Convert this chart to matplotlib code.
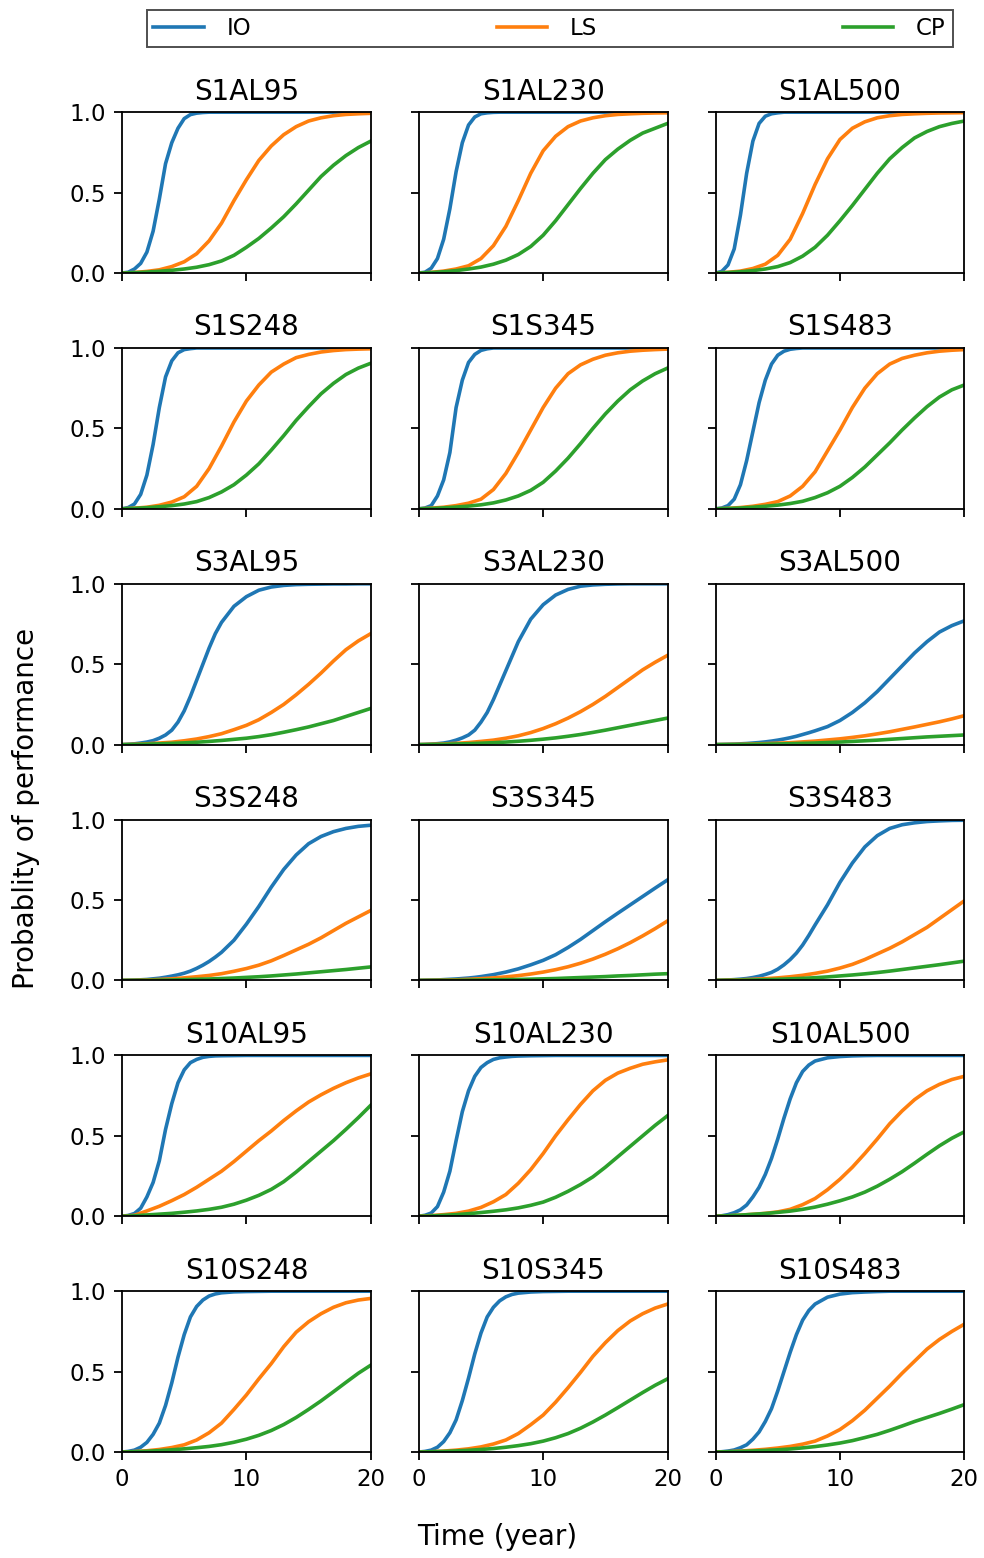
import matplotlib
matplotlib.use("Agg")
import matplotlib.pyplot as plt

# Time grids (years): IO curves sampled half-yearly up to year 8, yearly after
T_IO = [0, 0.5, 1, 1.5, 2, 2.5, 3, 3.5, 4, 4.5, 5, 5.5, 6, 6.5, 7, 7.5, 8,
        9, 10, 11, 12, 13, 14, 15, 16, 17, 18, 19, 20]
YEARS = list(range(21))

PANELS = ["S1AL95", "S1AL230", "S1AL500",
          "S1S248", "S1S345", "S1S483",
          "S3AL95", "S3AL230", "S3AL500",
          "S3S248", "S3S345", "S3S483",
          "S10AL95", "S10AL230", "S10AL500",
          "S10S248", "S10S345", "S10S483"]

SERIES_NAMES = ["IO", "LS", "CP"]
SERIES_COLORS = ["#1f77b4", "#ff7f0e", "#2ca02c"]

# Probability of performance, IO (on T_IO)
IO = [
    [0, 0.005, 0.025, 0.06, 0.13, 0.26, 0.46, 0.68, 0.81, 0.90, 0.96, 0.985, 0.994, 0.998, 1.0, 1.0, 1.0,
     1.0, 1.0, 1.0, 1.0, 1.0, 1.0, 1.0, 1.0, 1.0, 1.0, 1.0, 1.0],
    [0, 0.005, 0.03, 0.09, 0.21, 0.40, 0.63, 0.81, 0.92, 0.97, 0.99, 0.996, 0.999, 1.0, 1.0, 1.0, 1.0,
     1.0, 1.0, 1.0, 1.0, 1.0, 1.0, 1.0, 1.0, 1.0, 1.0, 1.0, 1.0],
    [0, 0.01, 0.05, 0.15, 0.36, 0.62, 0.82, 0.93, 0.975, 0.99, 0.996, 1.0, 1.0, 1.0, 1.0, 1.0, 1.0,
     1.0, 1.0, 1.0, 1.0, 1.0, 1.0, 1.0, 1.0, 1.0, 1.0, 1.0, 1.0],
    [0, 0.008, 0.03, 0.09, 0.21, 0.40, 0.63, 0.82, 0.92, 0.97, 0.99, 0.996, 1.0, 1.0, 1.0, 1.0, 1.0,
     1.0, 1.0, 1.0, 1.0, 1.0, 1.0, 1.0, 1.0, 1.0, 1.0, 1.0, 1.0],
    [0, 0.005, 0.02, 0.08, 0.18, 0.35, 0.63, 0.80, 0.91, 0.96, 0.985, 0.995, 1.0, 1.0, 1.0, 1.0, 1.0,
     1.0, 1.0, 1.0, 1.0, 1.0, 1.0, 1.0, 1.0, 1.0, 1.0, 1.0, 1.0],
    [0, 0.005, 0.02, 0.06, 0.15, 0.30, 0.48, 0.66, 0.80, 0.90, 0.955, 0.98, 0.992, 0.997, 1.0, 1.0, 1.0,
     1.0, 1.0, 1.0, 1.0, 1.0, 1.0, 1.0, 1.0, 1.0, 1.0, 1.0, 1.0],
    [0, 0.002, 0.005, 0.01, 0.016, 0.025, 0.04, 0.06, 0.09, 0.14, 0.21, 0.30, 0.40, 0.50, 0.60, 0.69, 0.76,
     0.86, 0.92, 0.96, 0.98, 0.99, 0.995, 0.997, 0.998, 0.999, 0.999, 1.0, 1.0],
    [0, 0.001, 0.003, 0.006, 0.01, 0.017, 0.028, 0.042, 0.06, 0.09, 0.14, 0.20, 0.28, 0.37, 0.46, 0.55, 0.64,
     0.78, 0.87, 0.93, 0.965, 0.985, 0.993, 0.997, 0.999, 1.0, 1.0, 1.0, 1.0],
    [0, 0.001, 0.002, 0.003, 0.005, 0.007, 0.01, 0.013, 0.017, 0.022, 0.028, 0.035, 0.043, 0.052, 0.063, 0.074, 0.086,
     0.112, 0.15, 0.20, 0.26, 0.33, 0.41, 0.49, 0.57, 0.64, 0.70, 0.74, 0.77],
    [0, 0.001, 0.002, 0.004, 0.006, 0.01, 0.014, 0.02, 0.027, 0.035, 0.045, 0.058, 0.075, 0.095, 0.118, 0.145, 0.175,
     0.25, 0.35, 0.46, 0.58, 0.69, 0.78, 0.85, 0.895, 0.925, 0.945, 0.958, 0.965],
    [0, 0.001, 0.002, 0.003, 0.005, 0.007, 0.009, 0.012, 0.015, 0.019, 0.024, 0.03, 0.036, 0.044, 0.052, 0.062, 0.072,
     0.097, 0.125, 0.16, 0.205, 0.255, 0.31, 0.365, 0.418, 0.47, 0.522, 0.574, 0.625],
    [0, 0.001, 0.003, 0.005, 0.008, 0.012, 0.018, 0.026, 0.037, 0.05, 0.07, 0.097, 0.13, 0.17, 0.22, 0.28, 0.345,
     0.47, 0.61, 0.73, 0.83, 0.90, 0.945, 0.968, 0.98, 0.988, 0.992, 0.995, 0.996],
    [0, 0.005, 0.017, 0.05, 0.12, 0.21, 0.345, 0.54, 0.70, 0.83, 0.91, 0.955, 0.975, 0.988, 0.994, 0.997, 0.998,
     0.999, 1.0, 1.0, 1.0, 1.0, 1.0, 1.0, 1.0, 1.0, 1.0, 1.0, 1.0],
    [0, 0.006, 0.02, 0.06, 0.15, 0.28, 0.47, 0.65, 0.78, 0.87, 0.925, 0.955, 0.975, 0.985, 0.99, 0.994, 0.996,
     0.998, 0.999, 1.0, 1.0, 1.0, 1.0, 1.0, 1.0, 1.0, 1.0, 1.0, 1.0],
    [0, 0.003, 0.01, 0.022, 0.04, 0.07, 0.12, 0.18, 0.26, 0.36, 0.48, 0.61, 0.73, 0.83, 0.90, 0.94, 0.965,
     0.985, 0.993, 0.997, 0.999, 1.0, 1.0, 1.0, 1.0, 1.0, 1.0, 1.0, 1.0],
    [0, 0.004, 0.012, 0.03, 0.06, 0.11, 0.18, 0.29, 0.43, 0.59, 0.73, 0.84, 0.905, 0.945, 0.97, 0.983, 0.99,
     0.996, 0.998, 0.999, 1.0, 1.0, 1.0, 1.0, 1.0, 1.0, 1.0, 1.0, 1.0],
    [0, 0.004, 0.012, 0.03, 0.065, 0.12, 0.20, 0.32, 0.46, 0.61, 0.74, 0.84, 0.90, 0.94, 0.965, 0.98, 0.988,
     0.995, 0.998, 0.999, 1.0, 1.0, 1.0, 1.0, 1.0, 1.0, 1.0, 1.0, 1.0],
    [0, 0.002, 0.006, 0.013, 0.027, 0.045, 0.08, 0.125, 0.19, 0.27, 0.38, 0.50, 0.62, 0.73, 0.82, 0.88, 0.92,
     0.963, 0.982, 0.991, 0.995, 0.998, 1.0, 1.0, 1.0, 1.0, 1.0, 1.0, 1.0],
]

# Probability of performance, LS (yearly)
LS = [
    [0, 0.003, 0.01, 0.02, 0.04, 0.07, 0.12, 0.20, 0.31, 0.45, 0.58, 0.70, 0.79, 0.86, 0.91, 0.945, 0.965, 0.978, 0.986, 0.99, 0.993],
    [0, 0.004, 0.012, 0.025, 0.045, 0.09, 0.17, 0.29, 0.45, 0.62, 0.76, 0.85, 0.91, 0.945, 0.965, 0.978, 0.986, 0.99, 0.993, 0.995, 0.996],
    [0, 0.004, 0.012, 0.028, 0.055, 0.11, 0.21, 0.37, 0.55, 0.71, 0.83, 0.90, 0.94, 0.965, 0.978, 0.986, 0.99, 0.993, 0.995, 0.996, 0.997],
    [0, 0.004, 0.01, 0.022, 0.042, 0.075, 0.14, 0.25, 0.39, 0.54, 0.67, 0.77, 0.85, 0.90, 0.94, 0.96, 0.975, 0.984, 0.99, 0.993, 0.995],
    [0, 0.004, 0.01, 0.02, 0.035, 0.06, 0.12, 0.22, 0.35, 0.49, 0.63, 0.75, 0.84, 0.895, 0.93, 0.955, 0.97, 0.98, 0.986, 0.99, 0.993],
    [0, 0.003, 0.008, 0.016, 0.028, 0.045, 0.08, 0.14, 0.23, 0.36, 0.49, 0.63, 0.75, 0.84, 0.90, 0.935, 0.955, 0.97, 0.98, 0.986, 0.99],
    [0, 0.002, 0.005, 0.01, 0.015, 0.024, 0.035, 0.05, 0.068, 0.093, 0.12, 0.155, 0.20, 0.25, 0.31, 0.375, 0.445, 0.52, 0.59, 0.645, 0.69],
    [0, 0.002, 0.004, 0.008, 0.013, 0.02, 0.028, 0.04, 0.055, 0.075, 0.10, 0.13, 0.165, 0.205, 0.25, 0.30, 0.355, 0.41, 0.465, 0.512, 0.555],
    [0, 0.001, 0.002, 0.004, 0.006, 0.009, 0.012, 0.017, 0.022, 0.029, 0.036, 0.045, 0.055, 0.067, 0.08, 0.095, 0.11, 0.126, 0.142, 0.16, 0.18],
    [0, 0.001, 0.003, 0.006, 0.01, 0.016, 0.023, 0.031, 0.042, 0.057, 0.074, 0.095, 0.122, 0.155, 0.19, 0.225, 0.265, 0.31, 0.355, 0.395, 0.435],
    [0, 0.001, 0.002, 0.004, 0.007, 0.011, 0.016, 0.022, 0.03, 0.04, 0.052, 0.067, 0.085, 0.107, 0.133, 0.163, 0.197, 0.235, 0.277, 0.322, 0.37],
    [0, 0.002, 0.004, 0.007, 0.011, 0.016, 0.023, 0.032, 0.044, 0.058, 0.077, 0.10, 0.13, 0.165, 0.20, 0.24, 0.285, 0.33, 0.385, 0.44, 0.495],
    [0, 0.006, 0.033, 0.062, 0.097, 0.135, 0.18, 0.23, 0.28, 0.34, 0.405, 0.47, 0.53, 0.595, 0.655, 0.71, 0.755, 0.795, 0.83, 0.86, 0.885],
    [0, 0.004, 0.01, 0.018, 0.032, 0.055, 0.09, 0.135, 0.205, 0.29, 0.39, 0.50, 0.60, 0.695, 0.78, 0.845, 0.89, 0.92, 0.945, 0.96, 0.972],
    [0, 0.003, 0.007, 0.012, 0.018, 0.027, 0.043, 0.072, 0.11, 0.165, 0.23, 0.305, 0.39, 0.48, 0.575, 0.655, 0.725, 0.78, 0.82, 0.85, 0.87],
    [0, 0.003, 0.008, 0.016, 0.028, 0.045, 0.075, 0.12, 0.18, 0.265, 0.355, 0.455, 0.55, 0.655, 0.745, 0.81, 0.86, 0.90, 0.928, 0.945, 0.955],
    [0, 0.002, 0.006, 0.012, 0.02, 0.032, 0.05, 0.075, 0.115, 0.17, 0.23, 0.31, 0.40, 0.495, 0.595, 0.68, 0.755, 0.815, 0.86, 0.895, 0.92],
    [0, 0.002, 0.006, 0.011, 0.017, 0.025, 0.035, 0.049, 0.068, 0.10, 0.14, 0.195, 0.26, 0.335, 0.41, 0.49, 0.565, 0.64, 0.70, 0.75, 0.795],
]

# Probability of performance, CP (yearly)
CP = [
    [0, 0.002, 0.006, 0.011, 0.017, 0.025, 0.036, 0.052, 0.075, 0.11, 0.16, 0.215, 0.28, 0.35, 0.43, 0.515, 0.60, 0.67, 0.73, 0.78, 0.82],
    [0, 0.003, 0.008, 0.015, 0.025, 0.037, 0.055, 0.08, 0.115, 0.165, 0.235, 0.325, 0.425, 0.525, 0.62, 0.705, 0.77, 0.825, 0.87, 0.90, 0.93],
    [0, 0.003, 0.008, 0.015, 0.025, 0.04, 0.065, 0.105, 0.16, 0.235, 0.325, 0.42, 0.52, 0.62, 0.71, 0.78, 0.84, 0.88, 0.91, 0.93, 0.945],
    [0, 0.003, 0.007, 0.013, 0.02, 0.03, 0.045, 0.07, 0.105, 0.15, 0.21, 0.28, 0.365, 0.455, 0.55, 0.635, 0.715, 0.78, 0.835, 0.875, 0.905],
    [0, 0.002, 0.006, 0.011, 0.017, 0.025, 0.037, 0.055, 0.08, 0.115, 0.165, 0.235, 0.315, 0.405, 0.50, 0.59, 0.67, 0.74, 0.795, 0.84, 0.875],
    [0, 0.002, 0.005, 0.01, 0.016, 0.023, 0.033, 0.047, 0.07, 0.10, 0.14, 0.195, 0.26, 0.335, 0.41, 0.49, 0.565, 0.635, 0.695, 0.74, 0.77],
    [0, 0.001, 0.003, 0.005, 0.008, 0.011, 0.015, 0.02, 0.026, 0.033, 0.04, 0.05, 0.062, 0.077, 0.093, 0.11, 0.13, 0.15, 0.175, 0.20, 0.225],
    [0, 0.001, 0.002, 0.004, 0.006, 0.009, 0.012, 0.016, 0.021, 0.027, 0.034, 0.042, 0.052, 0.063, 0.076, 0.09, 0.105, 0.12, 0.135, 0.15, 0.165],
    [0, 0.0005, 0.001, 0.002, 0.003, 0.004, 0.006, 0.008, 0.01, 0.013, 0.016, 0.02, 0.024, 0.028, 0.033, 0.038, 0.043, 0.048, 0.052, 0.056, 0.06],
    [0, 0.0005, 0.001, 0.002, 0.003, 0.005, 0.007, 0.009, 0.012, 0.015, 0.019, 0.023, 0.028, 0.034, 0.04, 0.047, 0.054, 0.061, 0.068, 0.076, 0.084],
    [0, 0.0003, 0.0007, 0.001, 0.002, 0.003, 0.004, 0.005, 0.006, 0.008, 0.01, 0.012, 0.015, 0.018, 0.021, 0.024, 0.028, 0.031, 0.035, 0.039, 0.042],
    [0, 0.001, 0.002, 0.003, 0.005, 0.007, 0.01, 0.013, 0.017, 0.022, 0.028, 0.034, 0.041, 0.049, 0.058, 0.068, 0.078, 0.088, 0.098, 0.109, 0.12],
    [0, 0.003, 0.008, 0.013, 0.018, 0.025, 0.033, 0.043, 0.056, 0.075, 0.10, 0.13, 0.167, 0.215, 0.275, 0.34, 0.405, 0.47, 0.54, 0.613, 0.69],
    [0, 0.002, 0.006, 0.01, 0.016, 0.023, 0.031, 0.04, 0.052, 0.068, 0.088, 0.118, 0.155, 0.197, 0.245, 0.305, 0.37, 0.435, 0.50, 0.565, 0.625],
    [0, 0.003, 0.007, 0.012, 0.017, 0.024, 0.032, 0.043, 0.057, 0.075, 0.096, 0.12, 0.15, 0.187, 0.23, 0.277, 0.33, 0.385, 0.438, 0.485, 0.525],
    [0, 0.002, 0.005, 0.009, 0.014, 0.02, 0.027, 0.035, 0.046, 0.061, 0.08, 0.104, 0.134, 0.171, 0.215, 0.265, 0.318, 0.375, 0.433, 0.49, 0.54],
    [0, 0.002, 0.004, 0.007, 0.011, 0.016, 0.022, 0.03, 0.04, 0.052, 0.068, 0.089, 0.115, 0.148, 0.187, 0.23, 0.276, 0.323, 0.37, 0.415, 0.455],
    [0, 0.002, 0.004, 0.007, 0.01, 0.014, 0.019, 0.026, 0.034, 0.044, 0.056, 0.071, 0.09, 0.11, 0.135, 0.162, 0.19, 0.215, 0.24, 0.267, 0.295],
]

X_TICKS = [0, 10, 20]
Y_TICKS = [0.0, 0.5, 1.0]

plt.rcParams["font.family"] = ["DejaVu Sans"]

fig, axes = plt.subplots(6, 3, figsize=(9.84, 15.58), dpi=100, sharex=True, sharey=True)
fig.subplots_adjust(left=0.124, right=0.98, top=0.928, bottom=0.068,
                    wspace=0.193, hspace=0.466)

handles = []
for k, ax in enumerate(axes.flat):
    series = [(T_IO, IO[k]), (YEARS, LS[k]), (YEARS, CP[k])]
    for (t, vals), name, color in zip(series, SERIES_NAMES, SERIES_COLORS):
        ln, = ax.plot(t, vals, color=color, lw=2.6, label=name)
        if k == 0:
            handles.append(ln)
    ax.set_title(PANELS[k], fontsize=20, pad=9)
    ax.set_xlim(0, 20)
    ax.set_ylim(0, 1)
    ax.set_xticks(X_TICKS)
    ax.set_yticks(Y_TICKS)
    ax.tick_params(labelsize=16.5, length=5.8, width=1.3, pad=6)
    for sp in ax.spines.values():
        sp.set_linewidth(1.3)

leg = fig.legend(handles, SERIES_NAMES, loc="lower left",
                 bbox_to_anchor=(0.149, 0.9698, 0.819, 0.0263),
                 mode="expand", ncol=3, borderaxespad=0, fontsize=16.5,
                 fancybox=False, edgecolor="#222222", handlelength=2.2,
                 handletextpad=1.0, borderpad=0.3)
leg.get_frame().set_linewidth(1.4)

fig.text(0.026, 0.481, "Probablity of performance", rotation=90,
         ha="center", va="center", fontsize=20)
fig.text(0.505, 0.0135, "Time (year)", ha="center", va="center", fontsize=20)

fig.savefig("out.png", dpi=100)
